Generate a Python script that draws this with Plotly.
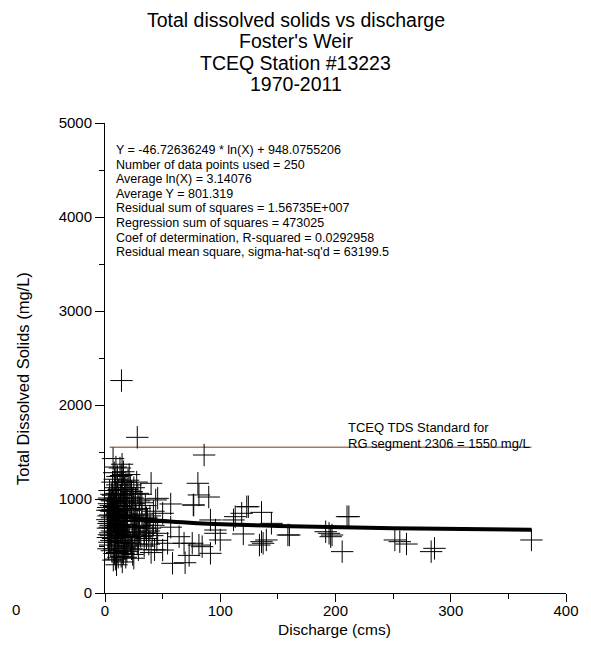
import plotly.graph_objects as go
import math

# ---- data ----
discharge = [
    3, 4, 2.5, 5, 3.5, 4.5, 5.5, 2, 3, 4, 5, 6, 2.5, 3.5, 4.5, 5.5, 6, 3, 4, 5, 2, 3.5, 4.5, 5.5, 6, 2.8, 4.2, 5.2, 3.8, 5.8,
    7, 8, 9, 10, 11, 7.5, 8.5, 9.5, 10.5, 11.5, 6.5, 7, 8, 9, 10, 11, 12, 6.5, 7.5, 8.5, 9.5, 10.5, 11.5, 12, 7, 8, 9, 10, 11, 12,
    6.8, 7.8, 8.8, 9.8, 10.8, 11.8, 7.2, 8.2, 9.2, 10.2, 11.2, 6.3, 7.3, 8.3, 9.3, 10.3, 11.3, 12, 8.6, 9.6,
    13, 14, 15, 16, 17, 18, 19, 20, 13, 14, 15, 16, 17, 18, 19, 20, 13, 14, 15, 16, 17, 18, 19, 20,
    13.5, 14.5, 15.5, 16.5, 17.5, 18.5, 19.5, 13.5, 14.5, 15.5, 16.5, 17.5, 18.5, 19.5, 12.5, 13.2, 14.2, 15.2, 16.2, 17.2,
    18.2, 19.2, 15.8, 14.8, 17.8, 16.8,
    21, 22, 23, 24, 25, 26, 27, 28, 29, 30, 21, 22, 23, 24, 25, 26, 27, 28, 29, 30,
    21.5, 22.5, 23.5, 24.5, 25.5, 26.5, 27.5, 28.5, 29.5, 21, 23, 25, 27, 24, 26,
    31, 32, 33, 34, 35, 36, 37, 38, 39, 40, 41, 42, 43, 44, 45, 32, 34, 36, 38, 40, 42, 44, 31, 35, 39,
    14.3, 28, 86, 80.6, 81.5, 90, 76.6, 91.5, 95.8, 100, 57, 123, 118.6, 111.5, 135.8, 144.4, 120, 135.8, 140, 134,
    160, 194.4, 197, 211.6, 205.8, 251.5, 68.6, 58.6, 69.5, 64.3, 81.5, 91.5, 50, 54.3, 45.7, 57, 50, 45.7,
    255.8, 261.6, 283, 285.9, 370, 77, 95.8, 75.7, 84.3, 73, 113, 124.4, 137.2, 158.7, 191.5, 195.8, 210,
]
tds = [
    820, 760, 690, 930, 1010, 640, 560, 880, 470, 1090, 720, 800, 590, 950, 510, 870, 660, 740, 880, 990, 780, 620, 830, 1050, 450, 910, 700, 610, 540, 760,
    1430, 1280, 1120, 980, 870, 760, 650, 540, 430, 380, 1180, 1040, 920, 830, 720, 610, 500, 890, 990, 1210, 1340, 1150, 1010, 880, 580, 470, 360, 300, 700, 790,
    690, 820, 950, 1060, 1240, 660, 350, 420, 560, 640, 540, 980, 870, 760, 700, 850, 930, 1100, 1010, 880,
    1330, 1250, 1180, 1290, 1120, 1050, 980, 1200, 920, 860, 790, 730, 680, 620, 560, 500, 450, 390, 330, 420, 480, 380, 440, 610,
    1040, 1100, 970, 900, 840, 770, 710, 650, 590, 540, 600, 530, 900, 830, 720, 770, 700, 640, 1010, 960,
    1180, 1100, 1260, 1370, 730, 800,
    1260, 1150, 1080, 1010, 950, 890, 830, 770, 710, 650, 590, 530, 470, 410, 370, 560, 620, 520, 460, 900,
    880, 820, 760, 700, 640, 1000, 1180, 1060, 980, 1020, 930, 1120, 700, 600, 760,
    1050, 840, 720, 640, 930, 580, 780, 520, 690, 1167, 610, 870, 460, 750, 560, 960, 500, 800, 660, 430, 720, 990, 600, 690, 820,
    2260, 1656, 1468, 1167, 1043, 1021, 936, 777, 635, 564, 947, 918, 848, 777, 858, 741, 628, 546, 564, 510,
    617, 635, 617, 812, 440, 564, 529, 316, 322, 599, 510, 422, 457, 529, 635, 700, 848, 1007,
    546, 521, 440, 475, 564, 936, 670, 529, 493, 400, 812, 918, 529, 617, 652, 599, 812,
]

# regression shown on the chart: Y = a * ln(X) + b
reg_a = -46.72636249
reg_b = 948.0755206
reg_x = [5, 10, 20, 40, 80, 150, 250, 370]

standard_value = 1550
standard_x = [4, 370]

stats_lines = [
    "Y = -46.72636249 * ln(X) + 948.0755206",
    "Number of data points used = 250",
    "Average ln(X) = 3.14076",
    "Average Y = 801.319",
    "Residual sum of squares = 1.56735E+007",
    "Regression sum of squares = 473025",
    "Coef of determination, R-squared = 0.0292958",
    "Residual mean square, sigma-hat-sq'd = 63199.5",
]
title_lines = ["Total dissolved solids vs discharge", "Foster's Weir",
               "TCEQ Station #13223", "1970-2011"]

FONT = "Arial, Liberation Sans, sans-serif"
OFF = 8  # page body margin
W, H = 591 - OFF, 658 - OFF
# plot area in page pixels: x 105..571, y 123..593
L, R, T, B = 105 - OFF, 591 - 571, 123 - OFF, 658 - 593

fig = go.Figure()
fig.add_trace(go.Scatter(
    x=standard_x, y=[standard_value] * 2, mode="lines",
    line=dict(color="#a57a60", width=1.5), hoverinfo="skip", showlegend=False))
fig.add_trace(go.Scatter(
    x=discharge, y=tds, mode="markers", cliponaxis=False,
    marker=dict(symbol="cross-thin", size=16, color="black",
                line=dict(color="black", width=1)),
    showlegend=False))
fig.add_trace(go.Scatter(
    x=reg_x, y=[reg_a * math.log(v) + reg_b for v in reg_x], mode="lines",
    line=dict(color="black", width=4, shape="spline"), showlegend=False))

def py2paper(py):  # page pixel -> paper
    return (593 - py) / (593 - 123)

def px2paper(px):
    return (px - 105) / (571 - 105)

ann = []
for i, s in enumerate(title_lines):
    ann.append(dict(text=s, x=px2paper(298), y=py2paper(20 + i * 21.3), xref="paper", yref="paper",
                    showarrow=False, xanchor="center", yanchor="middle",
                    font=dict(family=FONT, size=19.5, color="black")))
for i, s in enumerate(stats_lines):
    ann.append(dict(text=s, x=px2paper(114), y=py2paper(150 + i * 14.6), xref="paper", yref="paper",
                    showarrow=False, xanchor="left", yanchor="middle",
                    font=dict(family=FONT, size=12.5, color="black")))
for i, s in enumerate(["TCEQ TDS Standard for", "RG segment 2306 = 1550 mg/L"]):
    ann.append(dict(text=s, x=px2paper(349), y=py2paper(427 + i * 16), xref="paper", yref="paper",
                    showarrow=False, xanchor="left", yanchor="middle",
                    font=dict(family=FONT, size=13, color="black")))
ann.append(dict(text="Total Dissolved Solids (mg/L)", textangle=-90, x=px2paper(22), y=py2paper(378),
                xref="paper", yref="paper", showarrow=False, xanchor="center", yanchor="middle",
                font=dict(family=FONT, size=16.5, color="black")))
ann.append(dict(text="Discharge (cms)", x=px2paper(337), y=py2paper(629),
                xref="paper", yref="paper", showarrow=False, xanchor="center", yanchor="middle",
                font=dict(family=FONT, size=15.5, color="black")))
ann.append(dict(text="0", x=px2paper(9), y=py2paper(609),
                xref="paper", yref="paper", showarrow=False, xanchor="left", yanchor="middle",
                font=dict(family=FONT, size=15, color="black")))

fig.update_layout(
    width=W, height=H, margin=dict(l=L, r=R, t=T, b=B),
    paper_bgcolor="white", plot_bgcolor="white",
    font=dict(family=FONT, size=15, color="black"),
    annotations=ann,
    xaxis=dict(range=[0, 400], tickvals=[0, 100, 200, 300, 400], ticks="outside", ticklen=8,
               ticklabelstandoff=-4,
               tickwidth=1, tickcolor="black", showline=True, linecolor="black", linewidth=1,
               showgrid=False, zeroline=False,
               minor=dict(tickvals=[50, 150, 250, 350], ticks="outside", ticklen=5,
                          tickcolor="black", tickwidth=1, showgrid=False),
               tickfont=dict(family=FONT, size=15)),
    yaxis=dict(range=[0, 5000], tickvals=[0, 1000, 2000, 3000, 4000, 5000], ticks="outside", ticklen=9,
               tickwidth=1, tickcolor="black", showline=True, linecolor="black", linewidth=1,
               showgrid=False, zeroline=False,
               minor=dict(tickvals=[500, 1500, 2500, 3500, 4500], ticks="outside", ticklen=5,
                          tickcolor="black", tickwidth=1, showgrid=False),
               tickfont=dict(family=FONT, size=15)),
)

fig.write_html("out.html")
